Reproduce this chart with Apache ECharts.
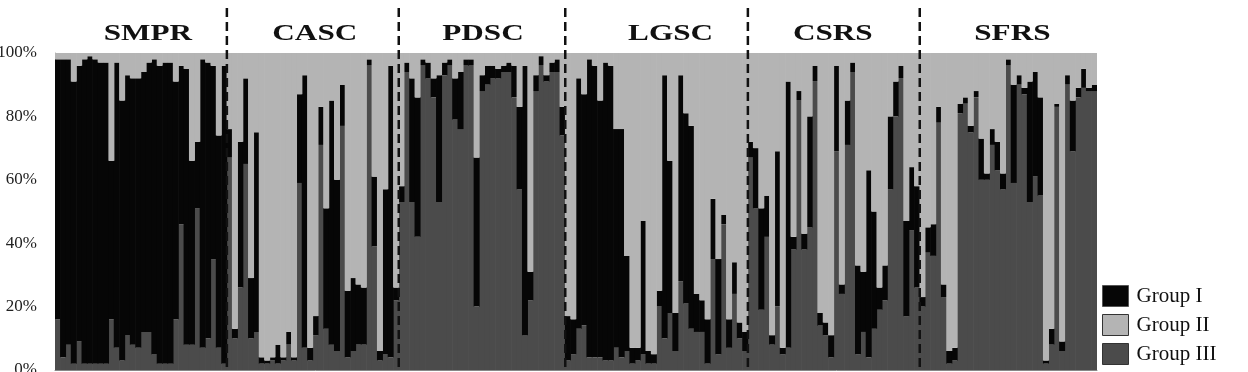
<!DOCTYPE html>
<html>
<head>
<meta charset="utf-8">
<script src="https://cdn.jsdelivr.net/npm/echarts@6/dist/echarts.min.js"></script>
<style>
  html, body { margin: 0; padding: 0; background: #fff; }
  #chart { width: 1248px; height: 372px; }
</style>
</head>
<body>
<div id="chart"></div>
<script>
// populations and number of individuals in each
const populations = ['SMPR', 'CASC', 'PDSC', 'LGSC', 'CSRS', 'SFRS']
const popSizes = [32, 32, 31, 34, 32, 33]

// membership (%) per individual, one line per population
const groupI = [
  82,94,90,89,87,96,97,96,95,95,50,90,82,82,84,85,82,85,93,94,95,95,75,50,87,58,21,91,87,61,67,94,
  9,3,46,27,19,63,2,1,1,6,1,4,1,28,86,4,6,12,38,77,54,13,21,23,19,18,2,22,3,52,92,4,
  5,3,39,44,2,5,6,40,4,2,13,18,2,2,47,5,6,4,3,2,3,10,26,85,9,5,3,2,3,4,9,
  14,11,79,73,94,92,81,94,93,69,72,30,5,4,42,4,3,5,83,48,12,65,60,64,12,10,14,19,30,3,9,10,5,6,
  5,19,32,13,3,49,2,84,4,3,5,35,5,4,4,7,27,3,14,3,28,19,59,37,7,11,23,11,4,30,20,32,
  3,8,10,5,4,4,4,3,2,2,2,13,2,5,9,5,2,31,3,2,38,33,31,1,5,1,3,3,16,3,6,1,2
]
const groupII = [
  2,2,2,9,4,2,1,2,3,3,34,3,15,7,8,8,6,3,2,4,3,3,9,4,5,34,28,2,3,4,26,4,
  24,87,28,8,71,25,96,97,96,92,96,88,96,13,7,93,83,17,49,15,40,10,75,71,73,74,2,39,94,43,4,74,
  42,3,8,14,2,3,8,7,3,2,8,6,2,2,33,7,4,4,5,4,3,4,17,4,69,7,1,7,3,2,17,
  83,84,8,13,2,4,15,3,4,24,24,64,93,93,53,94,95,75,7,34,82,7,19,23,76,78,84,46,65,51,84,66,85,88,
  28,30,49,45,89,31,93,9,58,12,57,20,4,82,85,89,4,73,15,3,67,69,37,50,74,67,20,9,4,53,36,42,
  77,55,54,17,73,94,93,16,14,23,12,27,38,24,28,38,2,10,7,11,9,6,14,97,87,16,91,7,15,11,5,11,10
]
const groupIII = [
  16,4,8,2,9,2,2,2,2,2,16,7,3,11,8,7,12,12,5,2,2,2,16,46,8,8,51,7,10,35,7,2,
  67,10,26,65,10,12,2,2,3,2,3,8,3,59,7,3,11,71,13,8,6,77,4,6,8,8,96,39,3,5,4,22,
  53,94,53,42,96,92,86,53,93,96,79,76,96,96,20,88,90,92,92,94,94,86,57,11,22,88,96,91,94,94,74,
  3,5,13,14,4,4,4,3,3,7,4,6,2,3,5,2,2,20,10,18,6,28,21,13,12,12,2,35,5,46,7,24,10,6,
  67,51,19,42,8,20,5,7,38,85,38,45,91,14,11,4,69,24,71,94,5,12,4,13,19,22,57,80,92,17,44,26,
  20,37,36,78,23,2,3,81,84,75,86,60,60,71,63,57,96,59,90,87,53,61,55,2,8,83,6,90,69,86,89,88,88
]

const categories = []
populations.forEach((p, k) => {
  for (let i = 1; i <= popSizes[k]; i++) categories.push(p + '-' + i)
})

const serif = '"Liberation Serif", "Times New Roman", serif'
const colI = '#060606', colII = '#b4b4b4', colIII = '#4b4b4b'

const chart = echarts.init(document.getElementById('chart'))

function barSeries(name, data, color) {
  return {
    name: name,
    type: 'bar',
    stack: 'q',
    data: data,
    barWidth: '112%',
    itemStyle: { color: color },
    emphasis: { disabled: true }
  }
}

chart.setOption({
  animation: false,
  grid: { left: 55, right: 151, top: 53, bottom: 2, outerBoundsMode: 'none', containLabel: false },
  legend: {
    orient: 'vertical',
    left: 1102,
    top: 285,
    padding: 0,
    itemWidth: 26,
    itemHeight: 21,
    itemGap: 7,
    icon: 'rect',
    textStyle: { fontFamily: serif, fontSize: 21, color: '#111', padding: [0, 0, 0, 3] },
    data: [
      { name: 'Group I', itemStyle: { color: colI, borderColor: '#555', borderWidth: 1 } },
      { name: 'Group II', itemStyle: { color: colII, borderColor: '#333', borderWidth: 1 } },
      { name: 'Group III', itemStyle: { color: colIII, borderColor: '#333', borderWidth: 1 } }
    ]
  },
  xAxis: {
    type: 'category',
    data: categories,
    axisLabel: { show: false },
    axisTick: { show: false },
    axisLine: { lineStyle: { color: '#888', width: 1 } }
  },
  yAxis: {
    type: 'value',
    min: 0,
    max: 100,
    interval: 20,
    axisLabel: { formatter: '{value}%', margin: 18, fontFamily: serif, fontSize: 17, color: '#222' },
    axisTick: { show: false },
    splitLine: { show: false },
    axisLine: { show: true, lineStyle: { color: '#aaa', width: 1 } }
  },
  series: [
    barSeries('Group III', groupIII, colIII),
    barSeries('Group I', groupI, colI),
    barSeries('Group II', groupII, colII)
  ]
})

// dashed separators between populations and population names above them
// (names are not quite centred over their blocks in the figure)
const nameShift = [7, 2, 1, 14, -1, 4]
const px = (c) => chart.convertToPixel({ xAxisIndex: 0 }, c)
const graphics = []
let start = 0
populations.forEach((p, k) => {
  const end = start + popSizes[k] - 1
  const mid = (px(categories[start]) + px(categories[end])) / 2
  graphics.push({
    type: 'text',
    x: mid + nameShift[k],
    y: 34,
    scaleX: 1.3,
    style: {
      text: p,
      font: 'bold 24px ' + serif,
      fill: '#111',
      textAlign: 'center',
      textVerticalAlign: 'middle'
    }
  })
  if (k < populations.length - 1) {
    const bx = (px(categories[end]) + px(categories[end + 1])) / 2
    graphics.push({
      type: 'line',
      shape: { x1: bx, y1: 8, x2: bx, y2: 372 },
      style: { stroke: '#111', lineWidth: 2.5, lineDash: [9, 5] },
      z: 10
    })
  }
  start = end + 1
})
chart.setOption({ graphic: graphics })
</script>
</body>
</html>
